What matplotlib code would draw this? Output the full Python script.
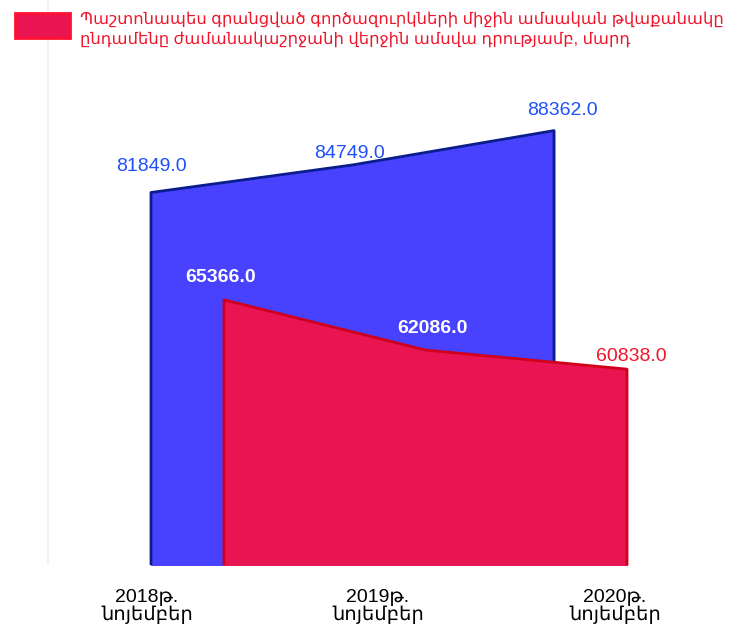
import matplotlib.pyplot as plt
from matplotlib.patches import Rectangle

# Data
periods = ['2018թ.\nնոյեմբեր', '2019թ.\nնոյեմբեր', '2020թ.\nնոյեմբեր']
total_vals = [81849.0, 84749.0, 88362.0]
unemployed_vals = [65366.0, 62086.0, 60838.0]
legend_text = ('Պաշտոնապես գրանցված գործազուրկների միջին ամսական թվաքանակը\n'
               'ընդամենը ժամանակաշրջանի վերջին ամսվա դրությամբ, մարդ')

plt.rcParams['font.family'] = ['Liberation Sans', 'DejaVu Sans']

BLUE_FILL = '#4841fe'
BLUE_EDGE = '#0b1d8c'
BLUE_TEXT = '#1f4ffb'
RED_FILL = '#e91552'
RED_EDGE = '#d0001c'
RED_TEXT = '#f0142a'

fig = plt.figure(figsize=(7.29, 6.26), dpi=100)
ax = fig.add_axes([0, 0.0974, 1, 0.9026])
ax2 = ax.twinx()

x = list(range(len(periods)))
shift = 0.362  # depth offset of the front series
x_front = [i + shift for i in x]

for a in (ax, ax2):
    a.set_xlim(-0.7494, 2.8685)
    for s in a.spines.values():
        s.set_visible(False)
    a.set_yticks([])
    a.patch.set_alpha(0)

ax.set_ylim(42645, 102106)
ax2.set_ylim(48046, 84947)

# faint grid
ax.axvline(-0.51, color='#efefef', lw=1.2, zorder=0)
ax.axhline(42645 - 250, xmin=0.06, xmax=0.9, color='#eeeeee', lw=1.2, zorder=0)

# back series
ax.fill_between(x, 42645, total_vals, color=BLUE_FILL, zorder=2)
ax.plot([x[0]] + x + [x[-1]], [42645] + total_vals + [42645],
        color=BLUE_EDGE, lw=2, zorder=3)

# front series
ax2.fill_between(x_front, 48046, unemployed_vals, color=RED_FILL, zorder=2)
ax2.plot([x_front[0]] + x_front + [x_front[-1]], [48046] + unemployed_vals + [48046],
         color=RED_EDGE, lw=2, zorder=3)

# value labels (offsets in pixels)
blue_off = [(0, 26), (-3, 11), (8, 20)]
for i, v in enumerate(total_vals):
    dx, dy = blue_off[i]
    ax.annotate(f'{v:.1f}', (x[i], v), xytext=(dx * 0.72, dy * 0.72),
                textcoords='offset points', ha='center', va='center',
                fontsize=14, color=BLUE_TEXT, zorder=5)

red_off = [(-3, 22), (7, 22), (4, 13)]
red_col = ['white', 'white', RED_TEXT]
red_wt = ['bold', 'bold', 'normal']
for i, v in enumerate(unemployed_vals):
    dx, dy = red_off[i]
    ax2.annotate(f'{v:.1f}', (x_front[i], v), xytext=(dx * 0.72, dy * 0.72),
                 textcoords='offset points', ha='center', va='center',
                 fontsize=14, color=red_col[i], fontweight=red_wt[i], zorder=5)

# category labels
ax.set_xticks([-0.0199, 1.1266, 2.3027])
ax.set_xticklabels(periods, fontsize=14, linespacing=1.0)
ax.tick_params(axis='x', length=0, pad=17)
ax2.tick_params(axis='x', length=0)

# legend
fig.patches.append(Rectangle((15 / 729, 1 - 38 / 626), 55 / 729, 25 / 626,
                             transform=fig.transFigure, facecolor=RED_FILL,
                             edgecolor='#ff1030', lw=2))
fig.text(80 / 729, 1 - 29 / 626, legend_text, color=RED_TEXT, fontsize=11.8,
         va='center', ha='left', linespacing=1.3)

fig.savefig('out.png', dpi=100)
